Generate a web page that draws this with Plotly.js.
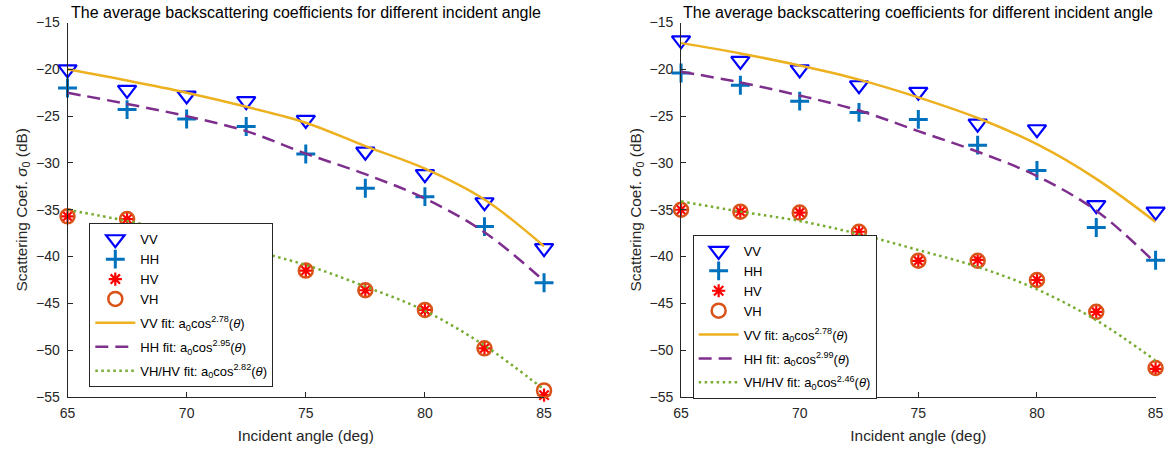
<!DOCTYPE html>
<html>
<head>
<meta charset="utf-8">
<script src="https://cdn.plot.ly/plotly-3.0.1.min.js"></script>
<style>html,body{margin:0;padding:0;background:#fff;}#chart{width:1172px;height:453px;}</style>
</head>
<body>
<div id="chart"></div>
<script>
// Incident angles (deg)
const angles = [65, 67.5, 70, 72.5, 75, 77.5, 80, 82.5, 85];

// Left panel measurements (dB)
const vvLeft = [-20.0, -22.2, -22.8, -23.4, -25.4, -28.8, -31.2, -34.2, -39.1];
const hhLeft = [-22.0, -24.3, -25.3, -26.1, -29.05, -32.7, -33.6, -36.8, -42.8];
const hvLeft = [-35.7, -36.0, -37.9, -39.4, -41.5, -43.6, -45.7, -49.8, -54.8];
const vhLeft = [-35.7, -36.0, -37.9, -39.4, -41.5, -43.6, -45.7, -49.8, -54.3];
// Left panel fitted curves (dB)
const vvFitLeft = [-20.0, -21.2, -22.5, -24.0, -25.7, -28.2, -30.6, -33.9, -38.9];
const hhFitLeft = [-22.5, -23.7, -25.0, -26.6, -29.0, -31.2, -33.8, -37.4, -42.6];
const xhFitLeft = [-35.0, -36.2, -37.6, -39.2, -40.9, -43.2, -45.8, -49.5, -54.2];

// Right panel measurements (dB)
const vvRight = [-16.9, -19.1, -20.0, -21.7, -22.4, -25.8, -26.4, -34.5, -35.2];
const hhRight = [-20.4, -21.7, -23.4, -24.6, -25.35, -28.1, -30.8, -36.9, -40.4];
const hvRight = [-35.0, -35.2, -35.3, -37.35, -40.45, -40.35, -42.5, -45.9, -52.0];
const vhRight = [-35.0, -35.2, -35.3, -37.35, -40.45, -40.45, -42.5, -45.9, -51.9];
// Right panel fitted curves (dB)
const vvFitRight = [-17.2, -18.3, -19.6, -21.1, -23.0, -25.2, -28.0, -31.7, -36.3];
const hhFitRight = [-20.25, -21.4, -22.8, -24.4, -26.6, -28.8, -31.4, -35.1, -40.7];
const xhFitRight = [-34.1, -35.2, -36.2, -37.6, -39.3, -41.1, -43.5, -46.8, -51.1];

// Fit exponents shown in legends
const expLeft = ['2.78', '2.95', '2.82'];
const expRight = ['2.78', '2.99', '2.46'];

const titleText = 'The average backscattering coefficients for different incident angle';
const xTitle = 'Incident angle (deg)';
const yTitle = 'Scattering Coef. <i>σ</i><sub>0</sub> (dB)';

const FONT = 'Liberation Sans, Arial, Helvetica, sans-serif';
const AX = '#262626';

function panelTraces(xa, ya, lg, vv, hh, hv, vh, vvF, hhF, xhF, ex) {
  return [
    {x: angles, y: vv, xaxis: xa, yaxis: ya, legend: lg, legendgroup: lg + 'm', name: 'VV', mode: 'markers', cliponaxis: false,
     marker: {symbol: 'triangle-down-open', size: 16, color: '#0000FF', line: {width: 2.2, color: '#0000FF'}}},
    {x: angles, y: hh, xaxis: xa, yaxis: ya, legend: lg, legendgroup: lg + 'm', name: 'HH', mode: 'markers', cliponaxis: false,
     marker: {symbol: 'cross-thin-open', size: 13.5, color: '#0072BD', line: {width: 3, color: '#0072BD'}}},
    {x: angles, y: hv, xaxis: xa, yaxis: ya, legend: lg, legendgroup: lg + 'm', name: 'HV', mode: 'markers', cliponaxis: false,
     marker: {symbol: 'asterisk-open', size: 11, color: '#FF0000', line: {width: 2.2, color: '#FF0000'}}},
    {x: angles, y: vh, xaxis: xa, yaxis: ya, legend: lg, legendgroup: lg + 'm', name: 'VH', mode: 'markers', cliponaxis: false,
     marker: {symbol: 'circle-open', size: 14, color: '#D95319', line: {width: 2.5, color: '#D95319'}}},
    {x: angles, y: vvF, xaxis: xa, yaxis: ya, legend: lg, legendgroup: lg + 'f1', mode: 'lines', cliponaxis: false,
     name: 'VV fit: a<sub>0</sub>cos<sup>' + ex[0] + '</sup>(<i>θ</i>)',
     line: {color: '#EDB120', width: 2.5, shape: 'spline', smoothing: 1}},
    {x: angles, y: hhF, xaxis: xa, yaxis: ya, legend: lg, legendgroup: lg + 'f2', mode: 'lines', cliponaxis: false,
     name: 'HH fit: a<sub>0</sub>cos<sup>' + ex[1] + '</sup>(<i>θ</i>)',
     line: {color: '#7E2F8E', width: 2.5, dash: '13px,7px', shape: 'spline', smoothing: 1}},
    {x: angles, y: xhF, xaxis: xa, yaxis: ya, legend: lg, legendgroup: lg + 'f3', mode: 'lines', cliponaxis: false,
     name: 'VH/HV fit: a<sub>0</sub>cos<sup>' + ex[2] + '</sup>(<i>θ</i>)',
     line: {color: '#77AC30', width: 2.5, dash: '2.5px,3.5px', shape: 'spline', smoothing: 1}}
  ];
}

const data = [].concat(
  panelTraces('x', 'y', 'legend', vvLeft, hhLeft, hvLeft, vhLeft, vvFitLeft, hhFitLeft, xhFitLeft, expLeft),
  panelTraces('x2', 'y2', 'legend2', vvRight, hhRight, hvRight, vhRight, vvFitRight, hhFitRight, xhFitRight, expRight)
);

function xAxis(dom, anchor) {
  return {domain: dom, anchor: anchor, range: [65, 85], tickmode: 'linear', tick0: 65, dtick: 5,
    showline: true, linecolor: AX, linewidth: 1, ticks: 'inside', ticklen: 5, tickcolor: AX,
    showgrid: false, zeroline: false, tickfont: {family: FONT, size: 14, color: AX}, ticklabelstandoff: 3,
    title: {text: xTitle, font: {family: FONT, size: 15.4, color: AX}, standoff: 10}};
}
function yAxis(dom, anchor) {
  return {domain: dom, anchor: anchor, range: [-55, -15], tickmode: 'linear', tick0: -55, dtick: 5,
    showline: true, linecolor: AX, linewidth: 1, ticks: 'inside', ticklen: 5, tickcolor: AX,
    showgrid: false, zeroline: false, tickfont: {family: FONT, size: 14, color: AX}, ticklabelstandoff: 4,
    title: {text: yTitle, font: {family: FONT, size: 15.4, color: AX}, standoff: 4}};
}

const yDom = [0.1236, 0.9503];
const legendStyle = (x, y) => ({x: x, y: y, xanchor: 'left', yanchor: 'top', xref: 'paper', yref: 'paper',
  bgcolor: '#FFFFFF', bordercolor: AX, borderwidth: 1, font: {family: FONT, size: 13, color: '#000'},
  tracegroupgap: 4, itemwidth: 40});

const layout = {
  width: 1172, height: 453,
  margin: {l: 0, r: 0, t: 0, b: 0},
  paper_bgcolor: '#FFFFFF', plot_bgcolor: '#FFFFFF',
  showlegend: true,
  xaxis: xAxis([0.0576, 0.4642], 'y'),
  yaxis: yAxis(yDom, 'x'),
  xaxis2: xAxis([0.5811, 0.9860], 'y2'),
  yaxis2: yAxis(yDom, 'x2'),
  legend: legendStyle(0.0762, 0.5071),
  legend2: legendStyle(0.5910, 0.4812),
  annotations: [
    {text: titleText, xref: 'paper', yref: 'paper', x: (0.0576 + 0.4642) / 2, y: 1 - 12 / 453,
     xanchor: 'center', yanchor: 'middle', showarrow: false, font: {family: FONT, size: 16, color: '#000'}},
    {text: titleText, xref: 'paper', yref: 'paper', x: (0.5811 + 0.9860) / 2, y: 1 - 12 / 453,
     xanchor: 'center', yanchor: 'middle', showarrow: false, font: {family: FONT, size: 16, color: '#000'}}
  ]
};

Plotly.newPlot('chart', data, layout, {displayModeBar: false, staticPlot: true});
</script>
</body>
</html>
